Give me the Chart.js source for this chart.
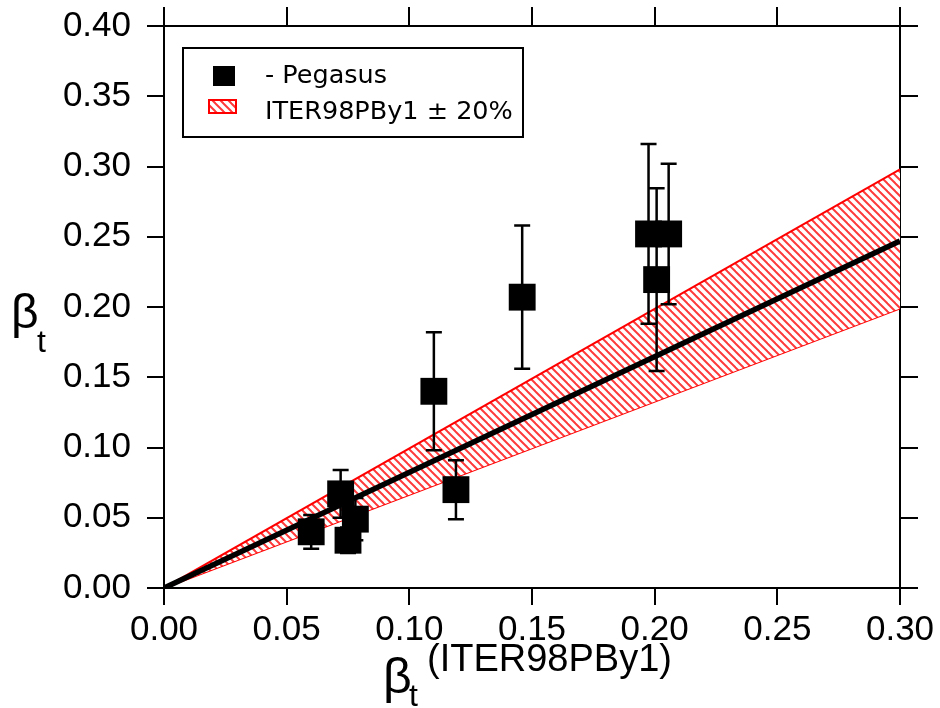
<!DOCTYPE html>
<html>
<head>
<meta charset="utf-8">
<script src="https://cdn.jsdelivr.net/npm/chart.js@4/dist/chart.umd.min.js"></script>
<style>
html,body{margin:0;padding:0;background:#fff;}
#wrap{width:940px;height:708px;position:relative;}
</style>
</head>
<body>
<div id="wrap"><canvas id="c" width="940" height="708"></canvas></div>
<script>
// ---- data ----
const pegX   = [0.060, 0.072, 0.078, 0.075, 0.110, 0.119, 0.146, 0.1975, 0.2057, 0.2008];
const pegY   = [0.040, 0.067, 0.049, 0.034, 0.140, 0.070, 0.207, 0.252, 0.252, 0.2195];
const pegErr = [0.012, 0.017, 0.015, 0.009, 0.042, 0.021, 0.051, 0.064, 0.050, 0.065];
const lineX  = [0.00, 0.30];
const fitY   = [0.00, 0.247];
const upperY = [0.00, 0.298];
const lowerY = [0.00, 0.199];
const xTicks = [0.00, 0.05, 0.10, 0.15, 0.20, 0.25, 0.30];
const yTicks = [0.00, 0.05, 0.10, 0.15, 0.20, 0.25, 0.30, 0.35, 0.40];
const legendLabels = ['- Pegasus', 'ITER98PBy1 \u00B1 20%'];

// hatch pattern
const ctx0 = document.getElementById('c').getContext('2d');
const hatchPattern = ctx0.createPattern((function(){
  const P = 8;
  const p = document.createElement('canvas');
  p.width = P; p.height = P;
  const g = p.getContext('2d');
  g.fillStyle = '#fff'; g.fillRect(0,0,P,P);
  g.strokeStyle = '#ff3a3a'; g.lineWidth = 2;
  for (let k=-1;k<=1;k++){
    g.beginPath(); g.moveTo(-1, k*P-1); g.lineTo(P+1, P+1+k*P); g.stroke();
  }
  return p;
})(),'repeat');

const pts = (xs, ys) => xs.map((x,i)=>({x:x, y:ys[i]}));

const errorBars = {
  id:'errorBars',
  beforeDatasetDraw(chart, args){
    if (args.index !== 0) return;
    const xs = chart.scales.x, ys = chart.scales.y, c = chart.ctx;
    c.save();
    c.strokeStyle = '#000'; c.lineWidth = 2.5;
    pegX.forEach((x,i)=>{
      const px = xs.getPixelForValue(x);
      const t = ys.getPixelForValue(pegY[i]+pegErr[i]);
      const b = ys.getPixelForValue(pegY[i]-pegErr[i]);
      c.beginPath();
      c.moveTo(px,t); c.lineTo(px,b);
      c.moveTo(px-8,t); c.lineTo(px+8,t);
      c.moveTo(px-8,b); c.lineTo(px+8,b);
      c.stroke();
    });
    c.restore();
  }
};

const decor = {
  id:'decor',
  afterDraw(chart){
    const c = chart.ctx;
    c.save();
    // legend
    c.fillStyle = '#fff';
    c.fillRect(183,48,340,89);
    c.strokeStyle = '#000'; c.lineWidth = 2;
    c.strokeRect(183,48,340,89);
    c.fillStyle = '#000';
    c.fillRect(213,66,22,20);
    c.fillStyle = hatchPattern;
    c.fillRect(209,100,27,13);
    c.strokeStyle = '#ff0000'; c.lineWidth = 2;
    c.strokeRect(209,100,27,13);
    c.fillStyle = '#000';
    c.font = '25.5px "DejaVu Sans"';
    c.textBaseline = 'alphabetic';
    c.textAlign = 'left';
    c.fillText(legendLabels[0], 265, 83);
    c.fillText(legendLabels[1], 265, 119);
    // y title
    c.font = '48px "Liberation Sans"';
    c.fillText('\u03B2', 11, 328);
    c.font = '32px "Liberation Sans"';
    c.fillText('t', 37, 352);
    // x title
    c.font = '50px "Liberation Sans"';
    c.fillText('\u03B2', 383, 693);
    c.font = '32px "Liberation Sans"';
    c.fillText('t', 409, 706);
    c.font = '38px "Liberation Sans"';
    c.fillText('(ITER98PBy1)', 427, 671);
    c.restore();
  }
};

const tickFont = {family:'"Liberation Sans"', size:35, lineHeight:0.5};
const fmt = v => Number(v).toFixed(2);

new Chart(document.getElementById('c'), {
  type:'scatter',
  data:{
    datasets:[
      {
        label: legendLabels[0],
        data: pts(pegX, pegY),
        pointStyle:'rect',
        pointRadius:19,
        pointHoverRadius:19,
        backgroundColor:'#000',
        borderColor:'#000',
        borderWidth:0,
        showLine:false
      },
      {
        label:'fit',
        type:'line',
        data: pts(lineX, fitY),
        borderColor:'#000',
        borderWidth:5.5,
        pointRadius:0,
        fill:false
      },
      {
        label: legendLabels[1],
        type:'line',
        data: pts(lineX, upperY),
        borderColor:'#ff0000',
        borderWidth:2,
        pointRadius:0,
        backgroundColor: hatchPattern,
        fill: 3
      },
      {
        label:'lower',
        type:'line',
        data: pts(lineX, lowerY),
        borderColor:'#ff0000',
        borderWidth:2,
        pointRadius:0,
        fill:false
      }
    ]
  },
  options:{
    responsive:false,
    animation:false,
    events:[],
    layout:{padding:{left:0,right:0,top:0,bottom:0}},
    plugins:{legend:{display:false}, tooltip:{enabled:false}},
    scales:{
      x:{
        type:'linear', position:'bottom', min:0, max:0.30,
        afterBuildTicks(s){ s.ticks = xTicks.map(v=>({value:v})); },
        afterFit(s){ s.height = 120; },
        ticks:{ callback:fmt, font:{family:'"Liberation Sans"', size:35}, color:'#000', padding:4, maxRotation:0, autoSkip:false },
        grid:{ drawOnChartArea:false, drawTicks:true, tickLength:17, color:'#000', lineWidth:2 },
        border:{ display:true, color:'#000', width:2 }
      },
      y:{
        type:'linear', position:'left', min:0, max:0.40,
        afterBuildTicks(s){ s.ticks = yTicks.map(v=>({value:v})); },
        afterFit(s){ s.width = 164; },
        ticks:{ callback:fmt, font:tickFont, color:'#000', padding:16, autoSkip:false },
        grid:{ drawOnChartArea:false, drawTicks:true, tickLength:17, color:'#000', lineWidth:2 },
        border:{ display:true, color:'#000', width:2 }
      },
      x2:{
        type:'linear', position:'top', min:0, max:0.30,
        afterBuildTicks(s){ s.ticks = xTicks.map(v=>({value:v})); },
        afterFit(s){ s.height = 26; },
        ticks:{ display:false },
        grid:{ drawOnChartArea:false, drawTicks:true, tickLength:19, color:'#000', lineWidth:2 },
        border:{ display:true, color:'#000', width:2 }
      },
      y2:{
        type:'linear', position:'right', min:0, max:0.40,
        afterBuildTicks(s){ s.ticks = yTicks.map(v=>({value:v})); },
        afterFit(s){ s.width = 40; },
        ticks:{ display:false },
        grid:{ drawOnChartArea:false, drawTicks:true, tickLength:18, color:'#000', lineWidth:2 },
        border:{ display:true, color:'#000', width:2 }
      }
    }
  },
  plugins:[errorBars, decor]
});
</script>
</body>
</html>
